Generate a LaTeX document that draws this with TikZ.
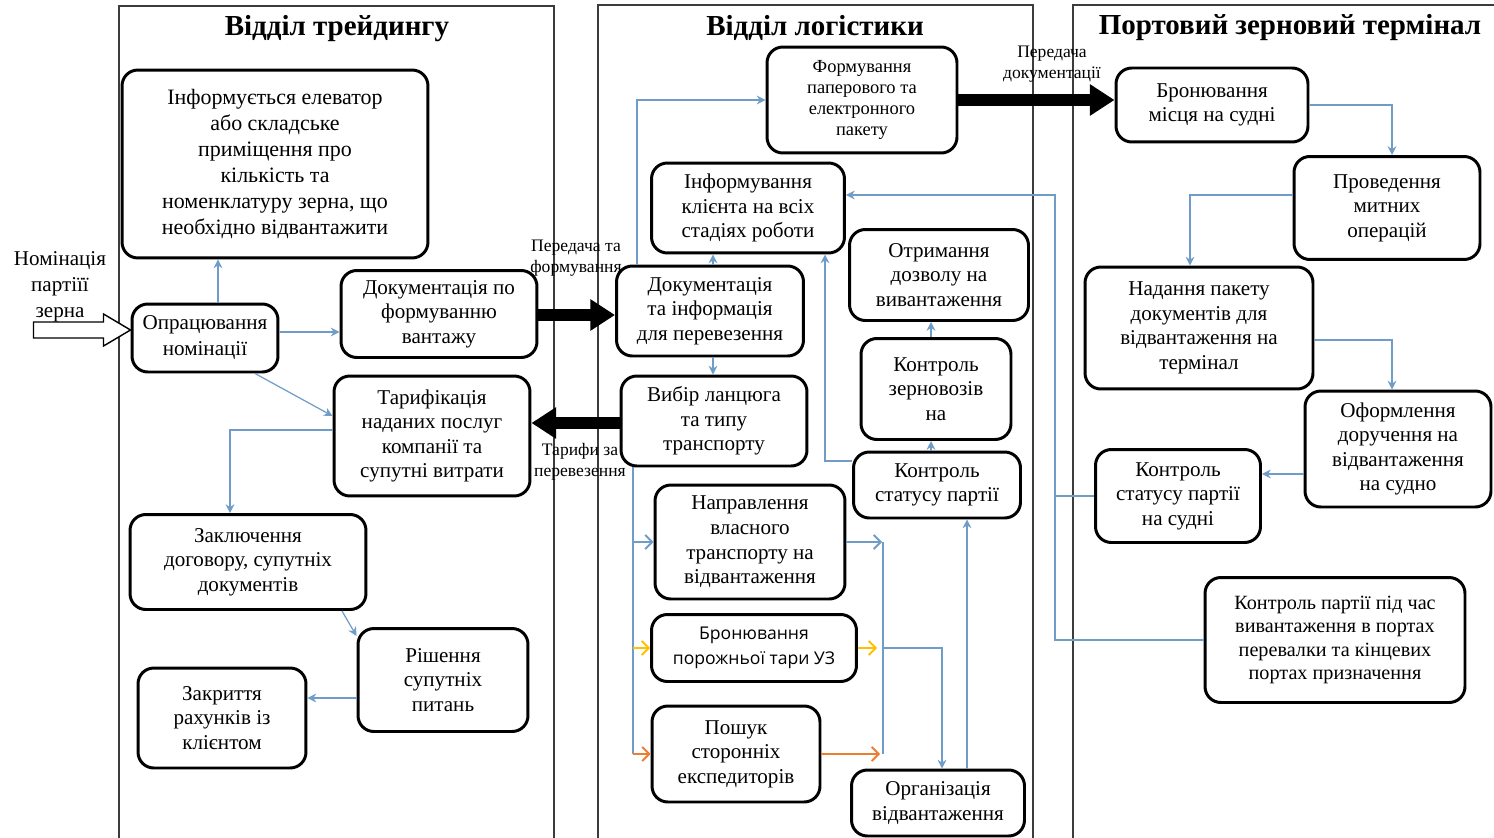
\documentclass[tikz,border=0pt]{standalone}
\usepackage{fontspec}
\setmainfont{Liberation Serif}
\newfontfamily\uisans{Open Sans}
\definecolor{lanegray}{RGB}{60,60,60}
\definecolor{flowblue}{RGB}{112,156,200}
\definecolor{flowyellow}{RGB}{255,192,0}
\definecolor{floworange}{RGB}{237,125,49}
\usetikzlibrary{shapes,arrows,arrows.meta,positioning,calc}
\tikzset{
  box/.style={draw, line width=1.7pt, rounded corners=9pt, align=center, inner sep=2pt, font=\fontsize{12}{14}\selectfont},
  lane/.style={draw=lanegray, line width=0.8pt},
  title/.style={font=\fontsize{16.5}{19}\selectfont\bfseries},
  flow/.style={draw=flowblue, line width=0.7pt, -{Stealth[length=5pt,width=5pt]}},
  link/.style={draw=flowblue, line width=0.7pt},
  opentip/.style={line width=1.1pt, -{Straight Barb[length=4pt,width=8pt]}},
  bigarrow/.style={line width=6.5pt, -{Triangle[length=14pt,width=17pt]}},
  lbl/.style={align=center, font=\fontsize{10}{12}\selectfont, inner sep=0pt},
}

\begin{document}
\begin{tikzpicture}[x=0.02cm, y=-0.02cm]
    \useasboundingbox (0,0) rectangle (1494,838);

    % Lanes
    \draw[lane] (119,838) -- (119,6) -- (554,6) -- (554,838);
    \draw[lane] (598,838) -- (598,5) -- (1033,5) -- (1033,838);
    \draw[lane] (1073,838) -- (1073,5) -- (1494,5);
    \node[title] (ttrade) at (337,29) {Відділ трейдингу};
    \node[title] (tlog) at (815,28) {Відділ логістики};
    \node[title] (tport) at (1290,28) {Портовий зерновий термінал};

    % Trading department
    \node[box, font=\fontsize{12.5}{14.8}\selectfont, minimum width=6.12cm, minimum height=3.76cm] (inform) at (275,164) {Інформується елеватор\\або складське\\приміщення про\\кількість та\\номенклатуру зерна, що\\необхідно відвантажити};
    \node[box, font=\fontsize{12}{14.8}\selectfont, minimum width=2.92cm, minimum height=1.36cm] (opr) at (205,338) {Опрацювання\\номінації};
    \node[box, minimum width=3.92cm, minimum height=1.74cm] (docform) at (439,314) {Документація по\\формуванню\\вантажу};
    \node[box, minimum width=3.92cm, minimum height=2.4cm] (tarif) at (432,436) {Тарифікація\\наданих послуг\\компанії та\\супутні витрати};
    \node[box, minimum width=4.72cm, minimum height=1.9cm] (dogovir) at (248,562) {Заключення\\договору, супутніх\\документів};
    \node[box, minimum width=3.4cm, minimum height=2.06cm] (rish) at (443,680) {Рішення\\супутніх\\питань};
    \node[box, minimum width=3.36cm, minimum height=2cm] (zakr) at (222,718) {Закриття\\рахунків із\\клієнтом};

    % Input
    \node[align=center, font=\fontsize{12}{14.8}\selectfont, inner sep=0pt] (nomin) at (60,289) {Номінація\\партіїї\\\underline{зерна}};
    \draw[line width=0.8pt, fill=white] (opr.west |- 0,330) -- ++(-27,-16) -- ++(0,8) -- ++(-70,0) -- ++(0,16) -- ++(70,0) -- ++(0,8) -- cycle;

    % Logistics department
    \node[box, font=\fontsize{10.5}{12}\selectfont, minimum width=3.8cm, minimum height=2.12cm] (paket) at (862,100) {Формування\\паперового та\\електронного\\пакету};
    \node[box, minimum width=3.86cm, minimum height=1.8cm] (inf) at (748,208) {Інформування\\клієнта на всіх\\стадіях роботи};
    \node[box, minimum width=3.74cm, minimum height=1.8cm] (docinfo) at (710,311) {Документація\\та інформація\\для перевезення};
    \node[box, minimum width=3.72cm, minimum height=1.8cm] (vybir) at (714,421) {Вибір ланцюга\\та типу\\транспорту};
    \node[box, minimum width=3.58cm, minimum height=1.82cm] (otr) at (939,275) {Отримання\\дозволу на\\вивантаження};
    \node[box, minimum width=3cm, minimum height=2.02cm] (kzern) at (936,389) {Контроль\\зерновозів\\на};
    \node[box, minimum width=3.34cm, minimum height=1.32cm] (kstat) at (937,485) {Контроль\\статусу партії};
    \node[box, minimum width=3.8cm, minimum height=2.28cm] (napr) at (750,542) {Направлення\\власного\\транспорту на\\відвантаження};
    \node[box, font=\uisans\fontsize{10}{14.5}\selectfont, minimum width=4.1cm, minimum height=1.34cm] (bron) at (754,648) {Бронювання\\порожньої тари УЗ};
    \node[box, minimum width=3.36cm, minimum height=1.92cm] (poshuk) at (736,754) {Пошук\\сторонніх\\експедиторів};
    \node[box, minimum width=3.46cm, minimum height=1.32cm] (org) at (938,803) {Організація\\відвантаження};

    % Port terminal
    \node[box, minimum width=3.84cm, minimum height=1.48cm] (bmisce) at (1212,105) {Бронювання\\місця на судні};
    \node[box, minimum width=3.72cm, minimum height=2.06cm] (mytni) at (1387,208) {Проведення\\митних\\операцій};
    \node[box, minimum width=4.56cm, minimum height=2.44cm] (nadannya) at (1199,328) {Надання пакету\\документів для\\відвантаження на\\термінал};
    \node[box, minimum width=3.72cm, minimum height=2.32cm] (oform) at (1398,449) {Оформлення\\доручення на\\відвантаження\\на судно};
    \node[box, minimum width=3.3cm, minimum height=1.86cm] (kstatsud) at (1178,496) {Контроль\\статусу партії\\на судні};
    \node[box, font=\fontsize{11.5}{13.3}\selectfont, minimum width=5.2cm, minimum height=2.5cm] (kport) at (1335,640) {Контроль партії під час\\вивантаження в портах\\перевалки та кінцевих\\портах призначення};

    % Labels of the transfers
    \node[lbl] (lpass) at (576,258) {Передача та\\формування};
    \node[lbl] (ltarif) at (580,462) {Тарифи за\\перевезення};
    \node[lbl] (ldoc) at (1052,64) {Передача\\документації};

    % Transfers between departments
    \draw[bigarrow] (docform.east |- 0,315) -- (docinfo.west |- 0,315);
    \draw[bigarrow] (vybir.west |- 0,423) -- (tarif.east |- 0,423);
    \draw[bigarrow] (paket.east |- 0,100) -- (bmisce.west |- 0,100);

    % Trading flow
    \draw[flow] (opr.north -| 218,0) -- (inform.south -| 218,0);
    \draw[flow] (opr.east |- 0,332) -- (docform.west |- 0,332);
    \draw[flow] (opr.south -| 255,0) -- (tarif.west |- 0,416);
    \draw[flow] (tarif.west |- 0,430) -| (dogovir.north -| 230,0);
    \draw[flow] (dogovir.south -| 342,0) -- (rish.west |- 0,636);
    \draw[flow] (rish.west |- 0,698) -- (zakr.east |- 0,698);

    % Logistics flow
    \draw[flow] (docinfo.north -| 637,0) |- (paket.west);
    \draw[flow] (docinfo.north -| 713,0) -- (inf.south -| 713,0);
    \draw[flow] (docinfo.south -| 713,0) -- (vybir.north -| 713,0);
    \draw[flow] (kstat.west |- 0,461) -| (inf.south -| 825,0);
    \draw[flow] (kstat.north -| 931,0) -- (kzern.south -| 931,0);
    \draw[flow] (kzern.north -| 931,0) -- (otr.south -| 931,0);
    \draw[flow] (org.north -| 967,0) -- (kstat.south -| 967,0);

    % Transport options
    \draw[link] (vybir.south -| 633,0) -- (poshuk.west -| 633,0);
    \draw[opentip, draw=flowblue] (napr.west -| 633,0) -- (napr.west);
    \draw[opentip, draw=flowyellow] (bron.west -| 633,0) -- (bron.west);
    \draw[opentip, draw=floworange] (poshuk.west -| 633,0) -- (poshuk.west);
    \draw[opentip, draw=flowblue] (napr.east) -- (napr.east -| 882,0);
    \draw[opentip, draw=flowyellow] (bron.east) -- (bron.east -| 877,0);
    \draw[opentip, draw=floworange] (poshuk.east) -- (poshuk.east -| 880,0);
    \draw[link] (napr.east -| 883,0) -- (poshuk.east -| 883,0);
    \draw[flow] (bron.east -| 883,0) -| (org.north -| 942,0);

    % Terminal flow
    \draw[flow] (bmisce.east) -| (mytni.north -| 1392,0);
    \draw[flow] (mytni.west |- 0,195) -| (nadannya.north -| 1190,0);
    \draw[flow] (nadannya.east |- 0,340) -| (oform.north -| 1392,0);
    \draw[flow] (oform.west |- 0,474) -- (kstatsud.east |- 0,474);
    \draw[link] (kstatsud.west) -- (kstatsud.west -| 1055,0);
    \draw[flow] (kport.west) -- (kport.west -| 1055,0) |- (inf.east |- 0,195);
\end{tikzpicture}
\end{document}
